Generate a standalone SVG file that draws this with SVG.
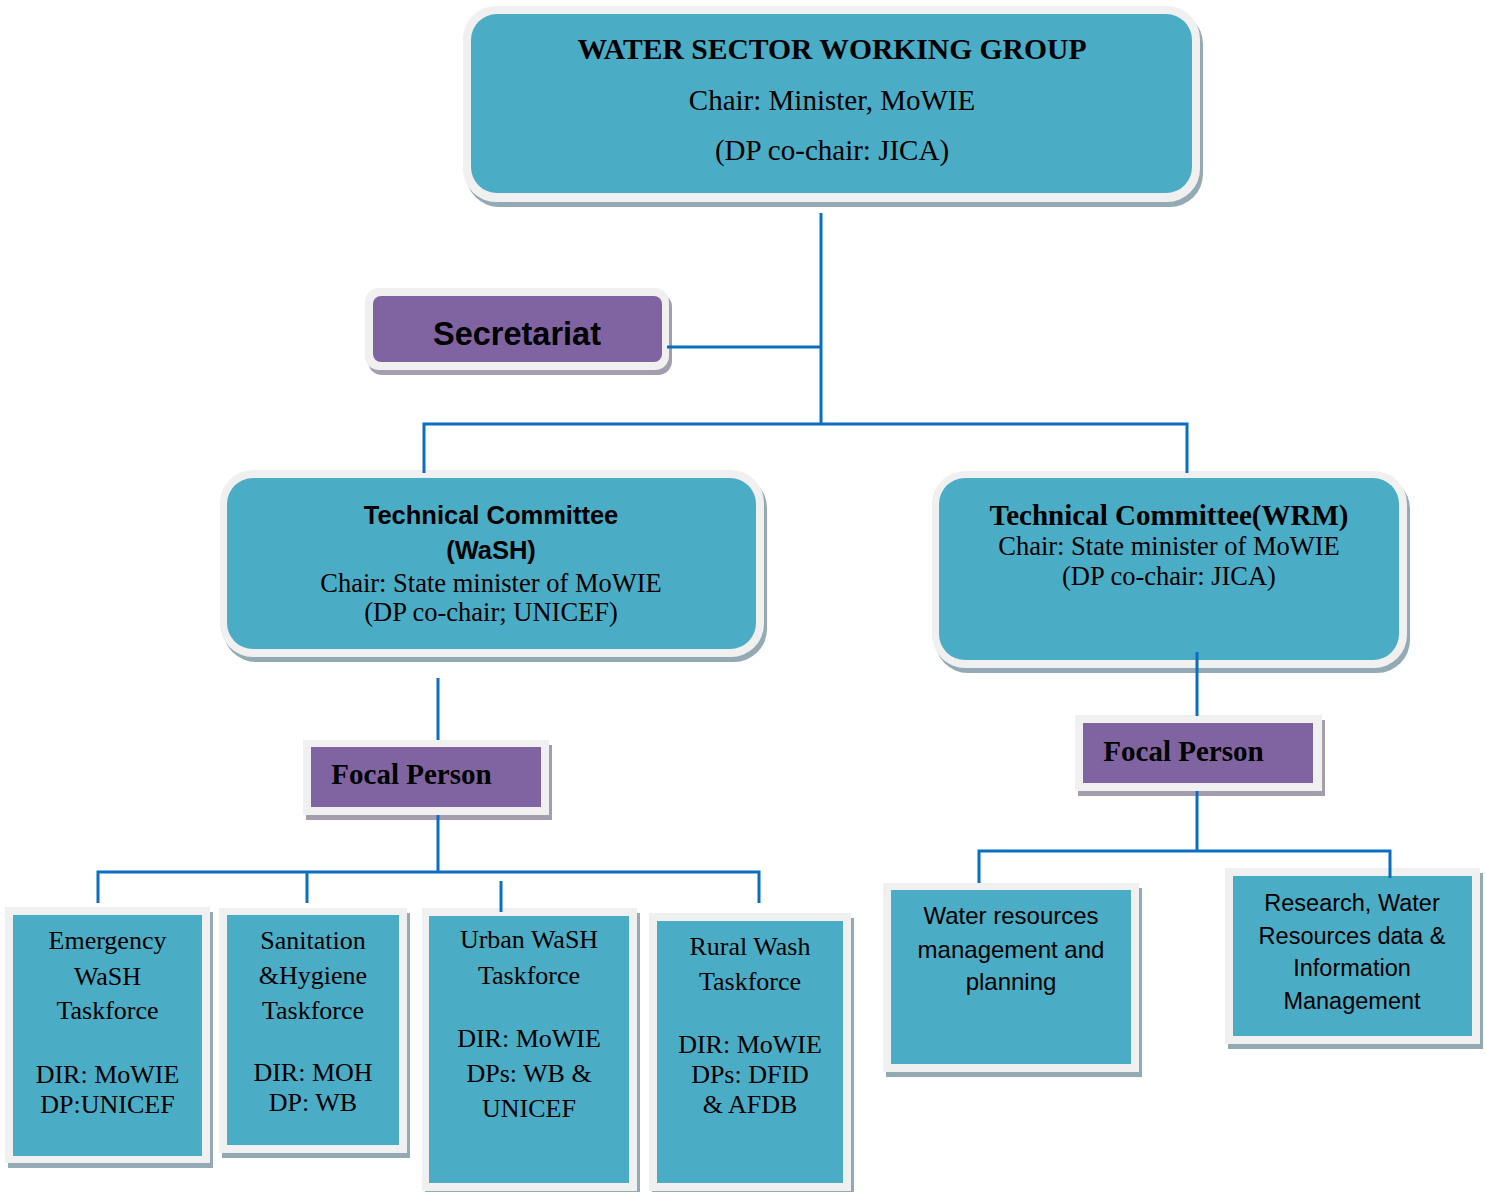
<svg xmlns="http://www.w3.org/2000/svg" width="1486" height="1192" viewBox="0 0 1486 1192">
<style>
.sh{fill:#93A9B3}
.shp{fill:#A39DAE}
.bd{fill:#F0F0F0}
.tl{fill:#4BACC6}
.pu{fill:#8064A2}
.sf{font-family:"Liberation Serif","Times New Roman",serif;fill:#000;text-anchor:middle}
.ss{font-family:"Liberation Sans",Arial,sans-serif;fill:#000;text-anchor:middle}
.b{font-weight:bold}
.con{fill:none;stroke:#0A6FC2;stroke-width:3}
</style>
<rect width="1486" height="1192" fill="#fff"/>
<g id="wswg">
<rect class="sh" x="466" y="11" width="737" height="196" rx="33"/>
<rect class="bd" x="463" y="6" width="737" height="196" rx="33"/>
<rect class="tl" x="471" y="14" width="721" height="179" rx="26"/>
<text class="sf b" x="832" y="59" font-size="29.6">WATER SECTOR WORKING GROUP</text>
<text class="sf" x="832" y="110" font-size="29">Chair: Minister, MoWIE</text>
<text class="sf" x="832" y="160" font-size="29">(DP co-chair: JICA)</text>
</g>
<g id="secretariat">
<rect class="shp" x="368" y="293" width="304" height="82" rx="14"/>
<rect class="bd" x="365" y="288" width="304" height="82" rx="14"/>
<rect class="pu" x="373" y="296" width="289" height="66" rx="8"/>
<text class="ss b" x="517" y="345" font-size="32.5">Secretariat</text>
</g>
<g id="tc-wash">
<rect class="sh" x="223" y="475" width="544" height="187" rx="33"/>
<rect class="bd" x="220" y="470" width="544" height="187" rx="33"/>
<rect class="tl" x="227" y="478" width="529" height="171" rx="26"/>
<text class="ss b" x="491" y="524" font-size="25.5">Technical Committee</text>
<text class="ss b" x="491" y="559" font-size="25.5">(WaSH)</text>
<text class="sf" x="491" y="592" font-size="26.5">Chair: State minister of MoWIE</text>
<text class="sf" x="491" y="621" font-size="26.5">(DP co-chair; UNICEF)</text>
</g>
<g id="tc-wrm">
<rect class="sh" x="935" y="476" width="475" height="197" rx="33"/>
<rect class="bd" x="932" y="471" width="475" height="197" rx="33"/>
<rect class="tl" x="939" y="478" width="460" height="182" rx="26"/>
<text class="sf b" x="1169" y="525" font-size="29">Technical Committee(WRM)</text>
<text class="sf" x="1169" y="555" font-size="26.5">Chair: State minister of MoWIE</text>
<text class="sf" x="1169" y="585" font-size="26.5">(DP co-chair: JICA)</text>
</g>
<g id="focal-left">
<rect class="shp" x="306" y="745" width="246" height="75"/>
<rect class="bd" x="303" y="740" width="246" height="75"/>
<rect class="pu" x="311" y="747" width="230" height="60"/>
<text class="sf b" x="411.5" y="784" font-size="29">Focal Person</text>
</g>
<g id="focal-right">
<rect class="shp" x="1078" y="720" width="247" height="76"/>
<rect class="bd" x="1075" y="715" width="247" height="76"/>
<rect class="pu" x="1083" y="723" width="230" height="60"/>
<text class="sf b" x="1183.5" y="761" font-size="29">Focal Person</text>
</g>
<g id="emergency">
<rect class="sh" x="8" y="912" width="205" height="256"/>
<rect class="bd" x="5" y="907" width="205" height="256"/>
<rect class="tl" x="13" y="915" width="189" height="241"/>
<g class="sf" font-size="26">
<text x="107.5" y="949">Emergency</text>
<text x="107.5" y="985">WaSH</text>
<text x="107.5" y="1019">Taskforce</text>
<text x="107.5" y="1083">DIR: MoWIE</text>
<text x="107.5" y="1113">DP:UNICEF</text>
</g>
</g>
<g id="sanitation">
<rect class="sh" x="222" y="913" width="188" height="245"/>
<rect class="bd" x="219" y="908" width="188" height="245"/>
<rect class="tl" x="227" y="915" width="172" height="230"/>
<g class="sf" font-size="26">
<text x="313" y="949">Sanitation</text>
<text x="313" y="984">&amp;Hygiene</text>
<text x="313" y="1019">Taskforce</text>
<text x="313" y="1081">DIR: MOH</text>
<text x="313" y="1111">DP: WB</text>
</g>
</g>
<g id="urban">
<rect class="sh" x="425" y="913" width="215" height="283"/>
<rect class="bd" x="422" y="908" width="215" height="283"/>
<rect class="tl" x="429" y="916" width="200" height="267"/>
<g class="sf" font-size="26">
<text x="529" y="948">Urban WaSH</text>
<text x="529" y="984">Taskforce</text>
<text x="529" y="1047">DIR: MoWIE</text>
<text x="529" y="1082">DPs: WB &amp;</text>
<text x="529" y="1117">UNICEF</text>
</g>
</g>
<g id="rural">
<rect class="sh" x="652" y="918" width="202" height="278"/>
<rect class="bd" x="649" y="913" width="202" height="278"/>
<rect class="tl" x="657" y="921" width="186" height="262"/>
<g class="sf" font-size="26">
<text x="750" y="955">Rural Wash</text>
<text x="750" y="990">Taskforce</text>
<text x="750" y="1053">DIR: MoWIE</text>
<text x="750" y="1083">DPs: DFID</text>
<text x="750" y="1113">&amp; AFDB</text>
</g>
</g>
<g id="wrm-planning">
<rect class="sh" x="886" y="888" width="256" height="189"/>
<rect class="bd" x="883" y="883" width="256" height="189"/>
<rect class="tl" x="891" y="890" width="240" height="174"/>
<g class="ss" font-size="24">
<text x="1011" y="924">Water resources</text>
<text x="1011" y="958">management and</text>
<text x="1011" y="990">planning</text>
</g>
</g>
<g id="research">
<rect class="sh" x="1228" y="873" width="255" height="176"/>
<rect class="bd" x="1225" y="868" width="255" height="176"/>
<rect class="tl" x="1233" y="876" width="239" height="160"/>
<g class="ss" font-size="23.5">
<text x="1352" y="911">Research, Water</text>
<text x="1352" y="944">Resources data &amp;</text>
<text x="1352" y="976">Information</text>
<text x="1352" y="1009">Management</text>
</g>
</g>
<g id="connectors" class="con">
<path d="M821,213 V424"/>
<path d="M424,473 V424 H1187 V473"/>
<path d="M667,347 H821"/>
<path d="M438,678 V740"/>
<path d="M438,815 V872"/>
<path d="M98,903 V872 H759 V903"/>
<path d="M307,872 V903"/>
<path d="M501,881 V912"/>
<path d="M1197,652 V716"/>
<path d="M1197,791 V851"/>
<path d="M979,883 V851 H1390 V878"/>
</g>
</svg>
